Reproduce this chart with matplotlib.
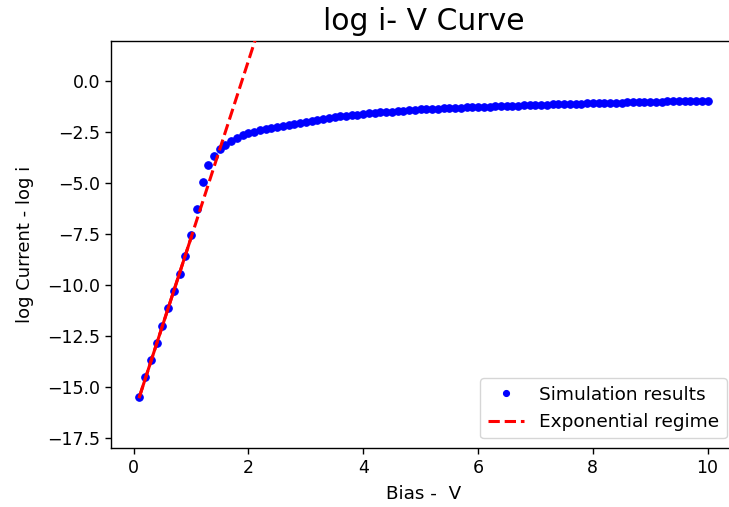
import matplotlib
matplotlib.use("Agg")
import matplotlib.pyplot as plt

bias = [round(0.1 * k, 1) for k in range(1, 101)]
log_current = [
    -15.52, -14.55, -13.70, -12.84, -12.01, -11.15, -10.30, -9.45, -8.58, -7.57,
    -6.25, -4.95, -4.11, -3.66, -3.33, -3.11, -2.91, -2.77, -2.65, -2.55,
    -2.47, -2.40, -2.34, -2.29, -2.24, -2.20, -2.15, -2.10, -2.05, -2.00,
    -1.95, -1.90, -1.85, -1.80, -1.76, -1.72, -1.69, -1.66, -1.63, -1.60,
    -1.57, -1.55, -1.52, -1.50, -1.48, -1.46, -1.44, -1.42, -1.40, -1.38,
    -1.37, -1.35, -1.34, -1.32, -1.31, -1.30, -1.29, -1.28, -1.27, -1.26,
    -1.25, -1.24, -1.23, -1.22, -1.21, -1.20, -1.19, -1.18, -1.17, -1.16,
    -1.15, -1.14, -1.13, -1.12, -1.11, -1.10, -1.10, -1.09, -1.08, -1.07,
    -1.06, -1.06, -1.05, -1.04, -1.04, -1.03, -1.02, -1.02, -1.01, -1.00,
    -1.00, -0.99, -0.98, -0.98, -0.97, -0.96, -0.96, -0.95, -0.94, -0.94,
]

fit_bias = [0.1, 1.0]
fit_log_current = [-15.50, -7.68]
exp_bias = [0.1, 2.5]
exp_log_current = [-15.50, 5.36]

x_ticks = [0, 2, 4, 6, 8, 10]
y_ticks = [0.0, -2.5, -5.0, -7.5, -10.0, -12.5, -15.0, -17.5]

fig = plt.figure(figsize=(7.29, 5.07), dpi=100)
ax = fig.add_axes([111 / 729, (507 - 447.7) / 507, (736 - 111) / 729, (447.7 - 40.7) / 507])

ax.plot(bias, log_current, 'o', color='blue', markersize=5.4, markeredgewidth=0.8,
        label='Simulation results', zorder=2)
ax.plot(fit_bias, fit_log_current, '-', color='red', lw=2.2, zorder=3)
ax.plot(exp_bias, exp_log_current, '--', color='red', lw=2.2, label='Exponential regime', zorder=3)

ax.set_xlim(-0.395, 10.495)
ax.set_ylim(-18, 2)
ax.set_xticks(x_ticks)
ax.set_yticks(y_ticks)
ax.tick_params(labelsize=12.5, width=1.0, length=4.5)
for s in ax.spines.values():
    s.set_linewidth(1.0)

ax.set_xlabel('Bias -  V', fontsize=13.2, labelpad=6)
ax.set_ylabel('log Current - log i', fontsize=13, labelpad=9)
ax.set_title('log i- V Curve', fontsize=21.5, pad=8)
leg = ax.legend(loc='lower right', fontsize=13.3, markerscale=0.8)

fig.savefig('out.png', dpi=100)
